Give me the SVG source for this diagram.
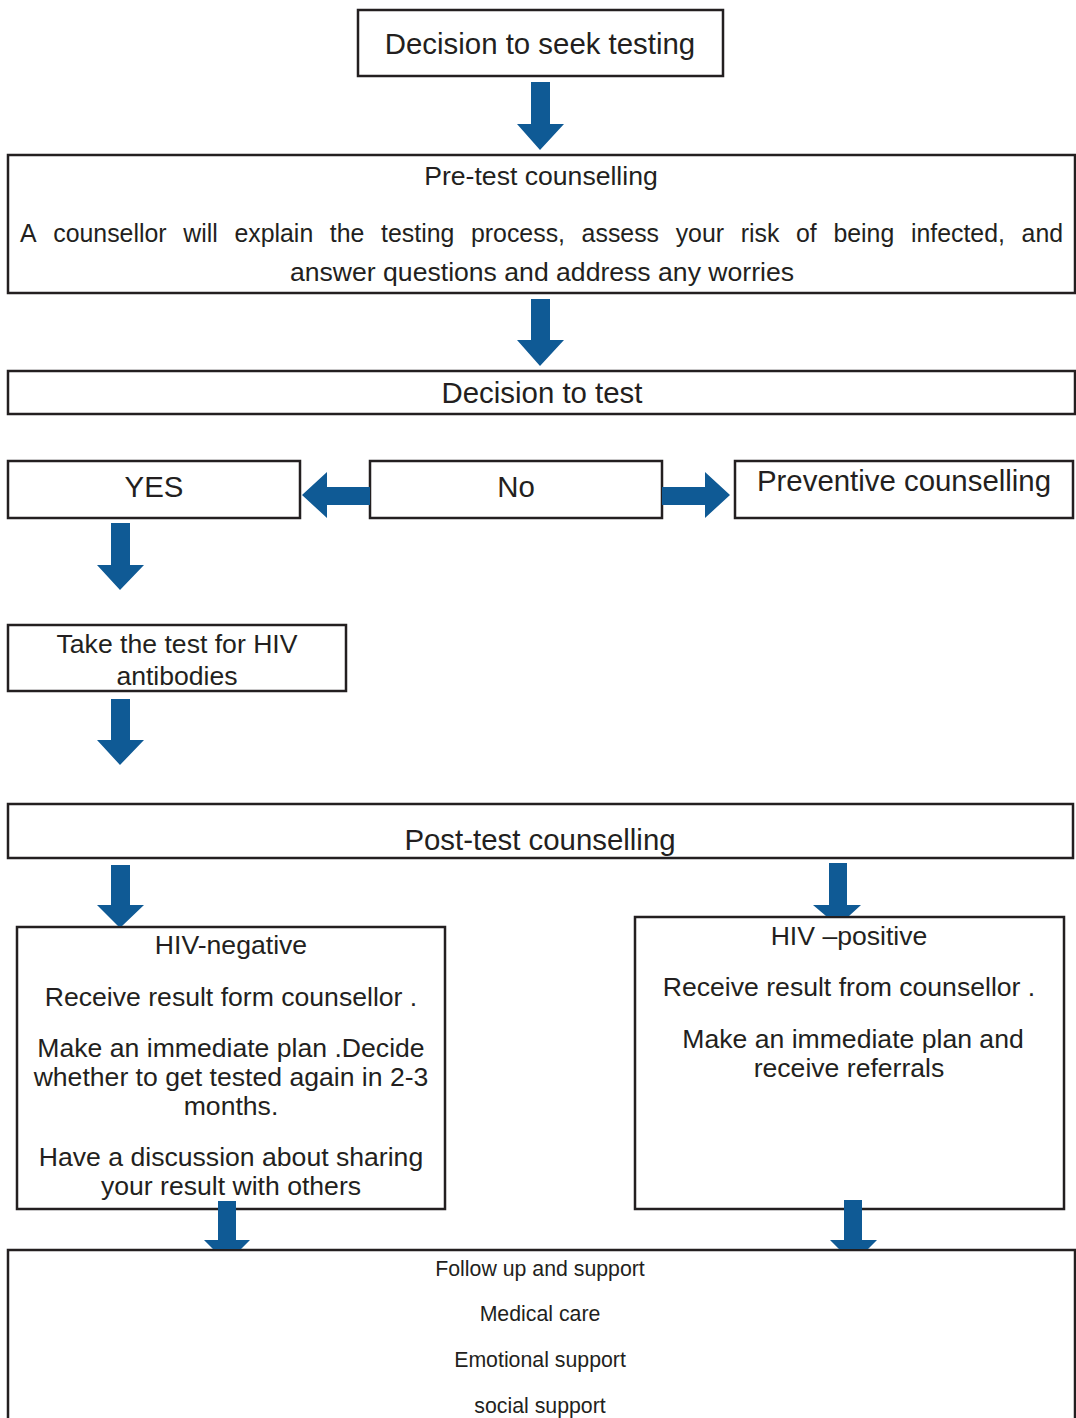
<svg xmlns="http://www.w3.org/2000/svg" width="1076" height="1418" viewBox="0 0 1076 1418">
<style>
.box{fill:#fff;stroke:#231f20;stroke-width:2.5}
.t{font-family:"Liberation Sans",Arial,sans-serif;fill:#231f20;text-anchor:middle}
.h{font-size:29.4px}
.m{font-size:26.6px}
.s{font-size:21.3px}
.arr{fill:#0f5a95}
</style>
<rect width="1076" height="1418" fill="#fff"/>
<g id="n1"><rect class="box" x="358" y="10" width="365" height="66"/><text class="t h" x="540" y="54">Decision to seek testing</text></g>
<g id="n2"><rect class="box" x="8" y="155" width="1067" height="138"/>
<text class="t m" x="541" y="185">Pre-test counselling</text>
<text class="t m" y="242" style="text-anchor:start" transform="scale(0.935 1)"><tspan x="21.39">A</tspan> <tspan x="56.94">counsellor</tspan> <tspan x="195.97">will</tspan> <tspan x="250.7">explain</tspan> <tspan x="352.78">the</tspan> <tspan x="407.56">testing</tspan> <tspan x="503.73">process,</tspan> <tspan x="622.06">assess</tspan> <tspan x="722.65">your</tspan> <tspan x="792.2">risk</tspan> <tspan x="851.37">of</tspan> <tspan x="891.36">being</tspan> <tspan x="974.23">infected,</tspan> <tspan x="1092.59">and</tspan></text>
<text class="t m" x="542" y="281">answer questions and address any worries</text></g>
<g id="n3"><rect class="box" x="8" y="371" width="1067" height="43"/><text class="t h" x="542" y="403">Decision to test</text></g>
<g id="n4"><rect class="box" x="8" y="461" width="292" height="57"/><text class="t h" x="154" y="497">YES</text></g>
<g id="n5"><rect class="box" x="370" y="461" width="292" height="57"/><text class="t h" x="516" y="497">No</text></g>
<g id="n6"><rect class="box" x="735" y="461" width="338" height="57"/><text class="t h" x="904" y="491">Preventive counselling</text></g>
<g id="n7"><rect class="box" x="8" y="625" width="338" height="66"/><text class="t m" x="177" y="653">Take the test for HIV</text><text class="t m" x="177" y="685">antibodies</text></g>
<g id="n8"><rect class="box" x="8" y="804" width="1065" height="54"/><text class="t h" x="540" y="850">Post-test counselling</text></g>
<g id="n9"><rect class="box" x="17" y="927" width="428" height="282"/>
<text class="t m" x="231" y="954">HIV-negative</text>
<text class="t m" x="231" y="1006">Receive result form counsellor .</text>
<text class="t m" x="231" y="1057">Make an immediate plan .Decide</text>
<text class="t m" x="231" y="1086">whether to get tested again in 2-3</text>
<text class="t m" x="231" y="1115">months.</text>
<text class="t m" x="231" y="1166">Have a discussion about sharing</text>
<text class="t m" x="231" y="1195">your result with others</text></g>
<g id="n10"><rect class="box" x="635" y="917" width="429" height="292"/>
<text class="t m" x="849" y="945">HIV –positive</text>
<text class="t m" x="849" y="996">Receive result from counsellor .</text>
<text class="t m" x="853" y="1048">Make an immediate plan and</text>
<text class="t m" x="849" y="1077">receive referrals</text></g>
<g id="n11"><rect class="box" x="8" y="1250" width="1067" height="175"/>
<text class="t s" x="540" y="1276">Follow up and support</text>
<text class="t s" x="540" y="1321">Medical care</text>
<text class="t s" x="540" y="1367">Emotional support</text>
<text class="t s" x="540" y="1413">social support</text></g>
<g id="connectors" class="arr">
<polygon points="531,82 550,82 550,124 564,124 540,150 517,124 531,124"/>
<polygon points="531,299 550,299 550,340 564,340 540,366 517,340 531,340"/>
<polygon points="370,487 327,487 327,472 302,495 327,518 327,505 370,505"/>
<polygon points="662,487 705,487 705,472 730,495 705,518 705,505 662,505"/>
<polygon points="111,523 130,523 130,565 144,565 120,590 97,565 111,565"/>
<polygon points="111,699 130,699 130,740 144,740 120,765 97,740 111,740"/>
<polygon points="111,865 130,865 130,905 144,905 122,926 118,926 97,905 111,905"/>
<polygon points="829,863 847,863 847,905 861,905 849,916 826,916 813,905 829,905"/>
<polygon points="218,1201 236,1201 236,1240 250,1240 241,1249 213,1249 204,1240 218,1240"/>
<polygon points="844,1200 862,1200 862,1240 877,1240 868,1249 839,1249 830,1240 844,1240"/>
</g>
</svg>
